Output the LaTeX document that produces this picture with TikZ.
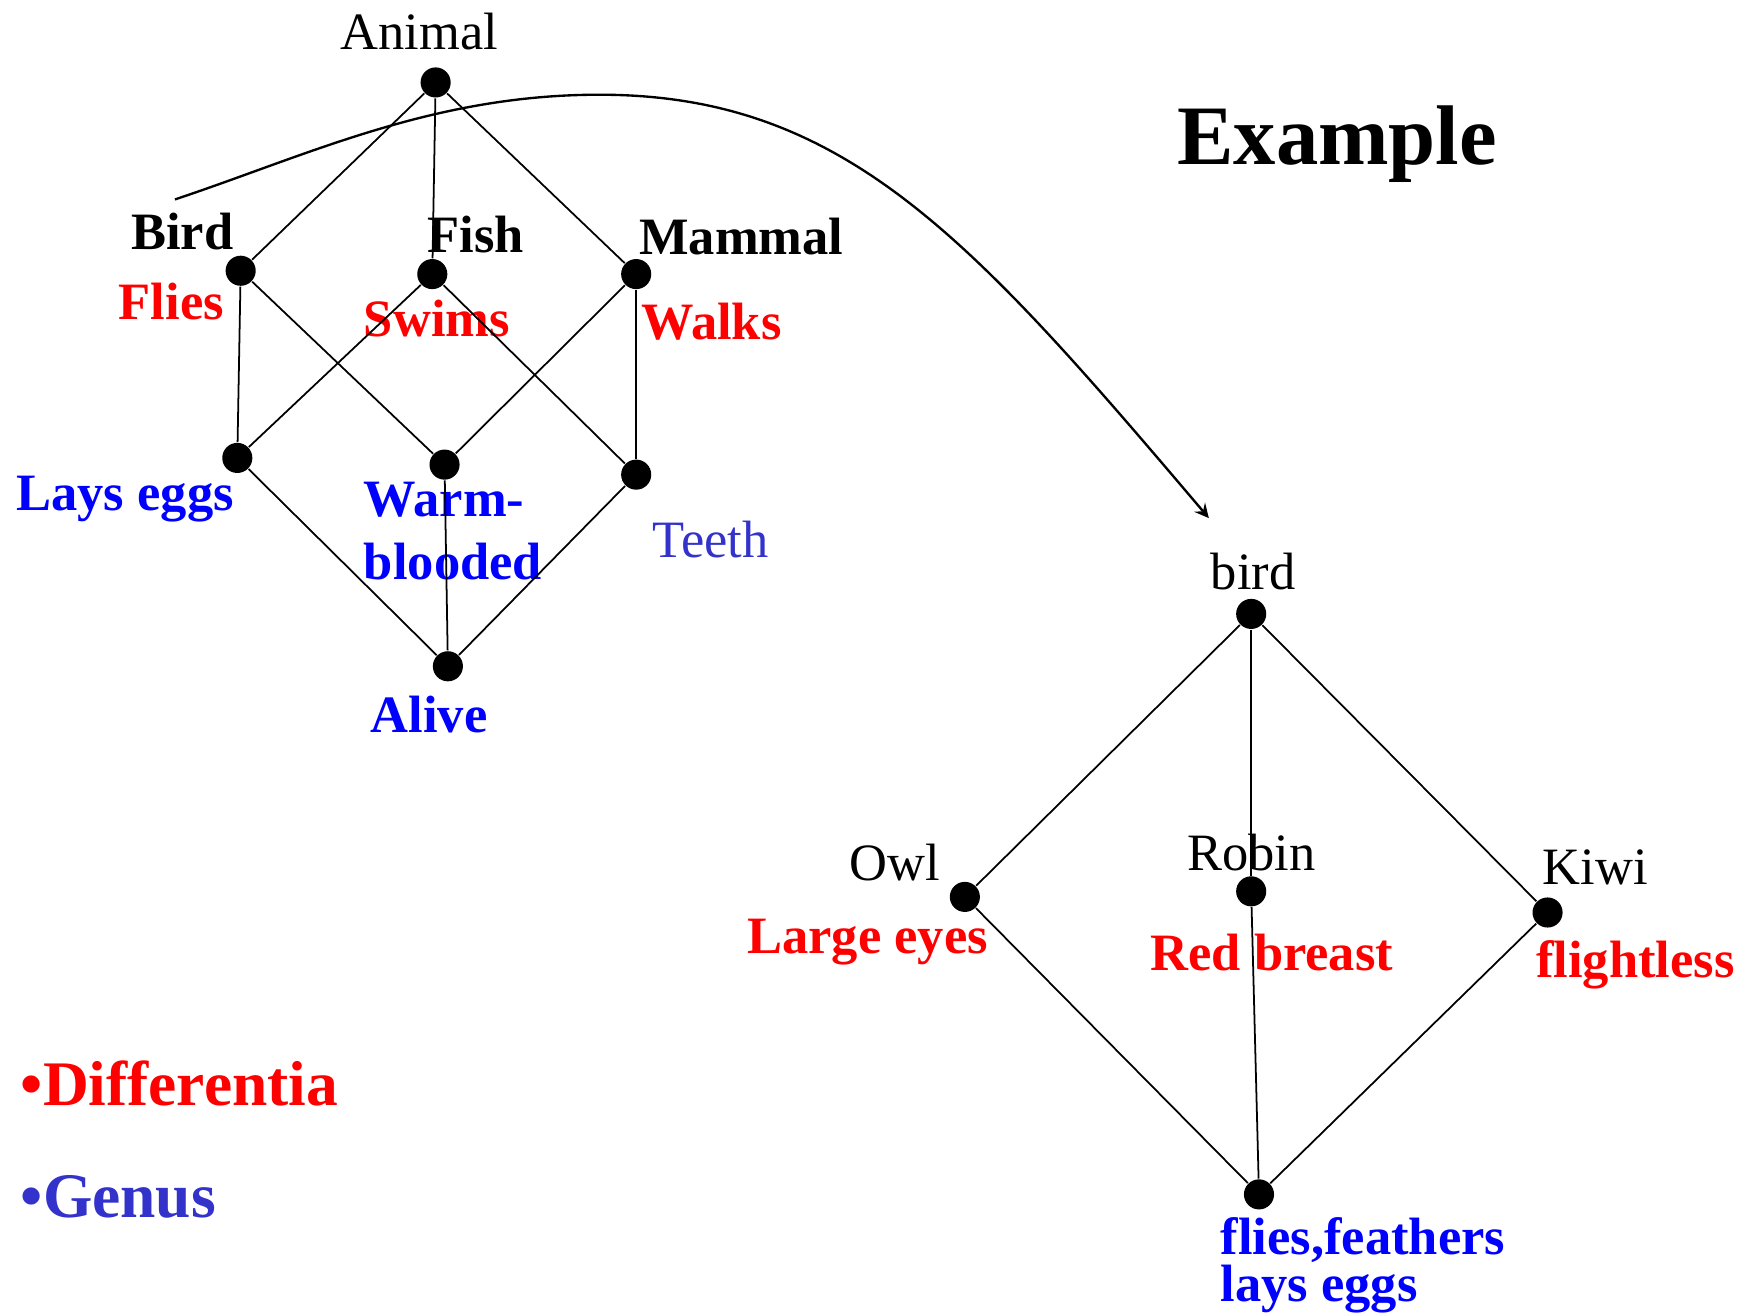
\documentclass[tikz,border=0pt]{standalone}
\usepackage{fontspec}
\setmainfont{Liberation Serif}
\usetikzlibrary{arrows,positioning}

\definecolor{diffred}{HTML}{FF0000}
\definecolor{genblue}{HTML}{0000FF}
\definecolor{softblue}{HTML}{3333CC}

\begin{document}
\begin{tikzpicture}[x=0.01cm,y=-0.01cm,
    dot/.style={circle,fill=black,inner sep=0pt,minimum size=0.27cm},
    lbl/.style={inner sep=0pt,anchor=base west,font=\fontsize{13.4}{15}\selectfont},
    blbl/.style={lbl,font=\fontsize{13.4}{15}\selectfont\bfseries},
    diff/.style={blbl,text=diffred},
    gen/.style={blbl,text=genblue},
    edge/.style={line width=0.45pt}]
  \useasboundingbox (0,0) rectangle (1568,1178);

  % upper lattice
  \node[dot] (animal) at (391,74) {};
  \node[dot] (bird) at (216,243) {};
  \node[dot] (fish) at (388,246) {};
  \node[dot] (mammal) at (571,246) {};
  \node[dot] (layseggs) at (213,411) {};
  \node[dot] (warm) at (399,417) {};
  \node[dot] (teeth) at (571,426) {};
  \node[dot] (alive) at (402,598) {};

  \node[lbl] (l-animal) at (305,44) {Animal};
  \node[blbl] (l-bird) at (117,224) {Bird};
  \node[blbl] (l-fish) at (383,227) {Fish};
  \node[blbl] (l-mammal) at (573,228) {Mammal};
  \node[diff] (l-flies) at (106,287) {Flies};
  \node[diff] (l-swims) at (326,302) {Swims};
  \node[diff] (l-walks) at (575,305) {Walks};
  \node[gen] (l-layseggs) at (14,458) {Lays eggs};
  \node[gen,anchor=north west,align=left,font=\fontsize{13.4}{16.2}\selectfont\bfseries] (l-warm) at (326,432) {Warm-\\blooded};
  \node[lbl,text=softblue] (l-teeth) at (585,500) {Teeth};
  \node[gen] (l-alive) at (332,657) {Alive};

  \draw[edge] (animal) -- (bird);
  \draw[edge] (animal) -- (fish);
  \draw[edge] (animal) -- (mammal);
  \draw[edge] (bird) -- (layseggs);
  \draw[edge] (bird) -- (warm);
  \draw[edge] (fish) -- (layseggs);
  \draw[edge] (fish) -- (teeth);
  \draw[edge] (mammal) -- (warm);
  \draw[edge] (mammal) -- (teeth);
  \draw[edge] (layseggs) -- (alive);
  \draw[edge] (warm) -- (alive);
  \draw[edge] (teeth) -- (alive);

  % lower lattice
  \node[dot] (bird2) at (1123,551) {};
  \node[dot] (owl) at (866,805) {};
  \node[dot] (robin) at (1123,800) {};
  \node[dot] (kiwi) at (1389,819) {};
  \node[dot] (common) at (1130,1072) {};

  \node[lbl] (l-bird2) at (1086,529) {bird};
  \node[lbl] (l-owl) at (762,790) {Owl};
  \node[lbl] (l-robin) at (1065,781) {Robin};
  \node[lbl] (l-kiwi) at (1384,794) {Kiwi};
  \node[diff] (l-owl-d) at (670,856) {Large eyes};
  \node[diff] (l-robin-d) at (1032,871) {Red breast};
  \node[diff] (l-kiwi-d) at (1378,877) {flightless};
  \node[gen,anchor=north west,align=left,font=\fontsize{13.4}{12}\selectfont\bfseries] (l-common) at (1095,1092) {flies,feathers\\lays eggs};

  \draw[edge] (bird2) -- (owl);
  \draw[edge] (bird2) -- (robin);
  \draw[edge] (bird2) -- (kiwi);
  \draw[edge] (owl) -- (common);
  \draw[edge] (robin) -- (common);
  \draw[edge] (kiwi) -- (common);

  % link from Bird to the lower lattice
  \coordinate (arcstart) at (157,179);
  \coordinate (arcpeak) at (538,85);
  \coordinate (arcend) at (1085,465);
  \draw[line width=0.6pt,-stealth] (arcstart) .. controls (277,139) and (388,85) .. (arcpeak)
    .. controls (758,85) and (871.5,213.5) .. (arcend);

  \node[inner sep=0pt,anchor=base west,font=\fontsize{21.6}{24}\selectfont\bfseries] (title) at (1056,148) {Example};
  \node[inner sep=0pt,anchor=base west,text=diffred,font=\fontsize{16.2}{18}\selectfont\bfseries] (key-diff) at (18,992) {•Differentia};
  \node[inner sep=0pt,anchor=base west,text=softblue,font=\fontsize{16.2}{18}\selectfont\bfseries] (key-gen) at (18,1093) {•Genus};
\end{tikzpicture}
\end{document}
